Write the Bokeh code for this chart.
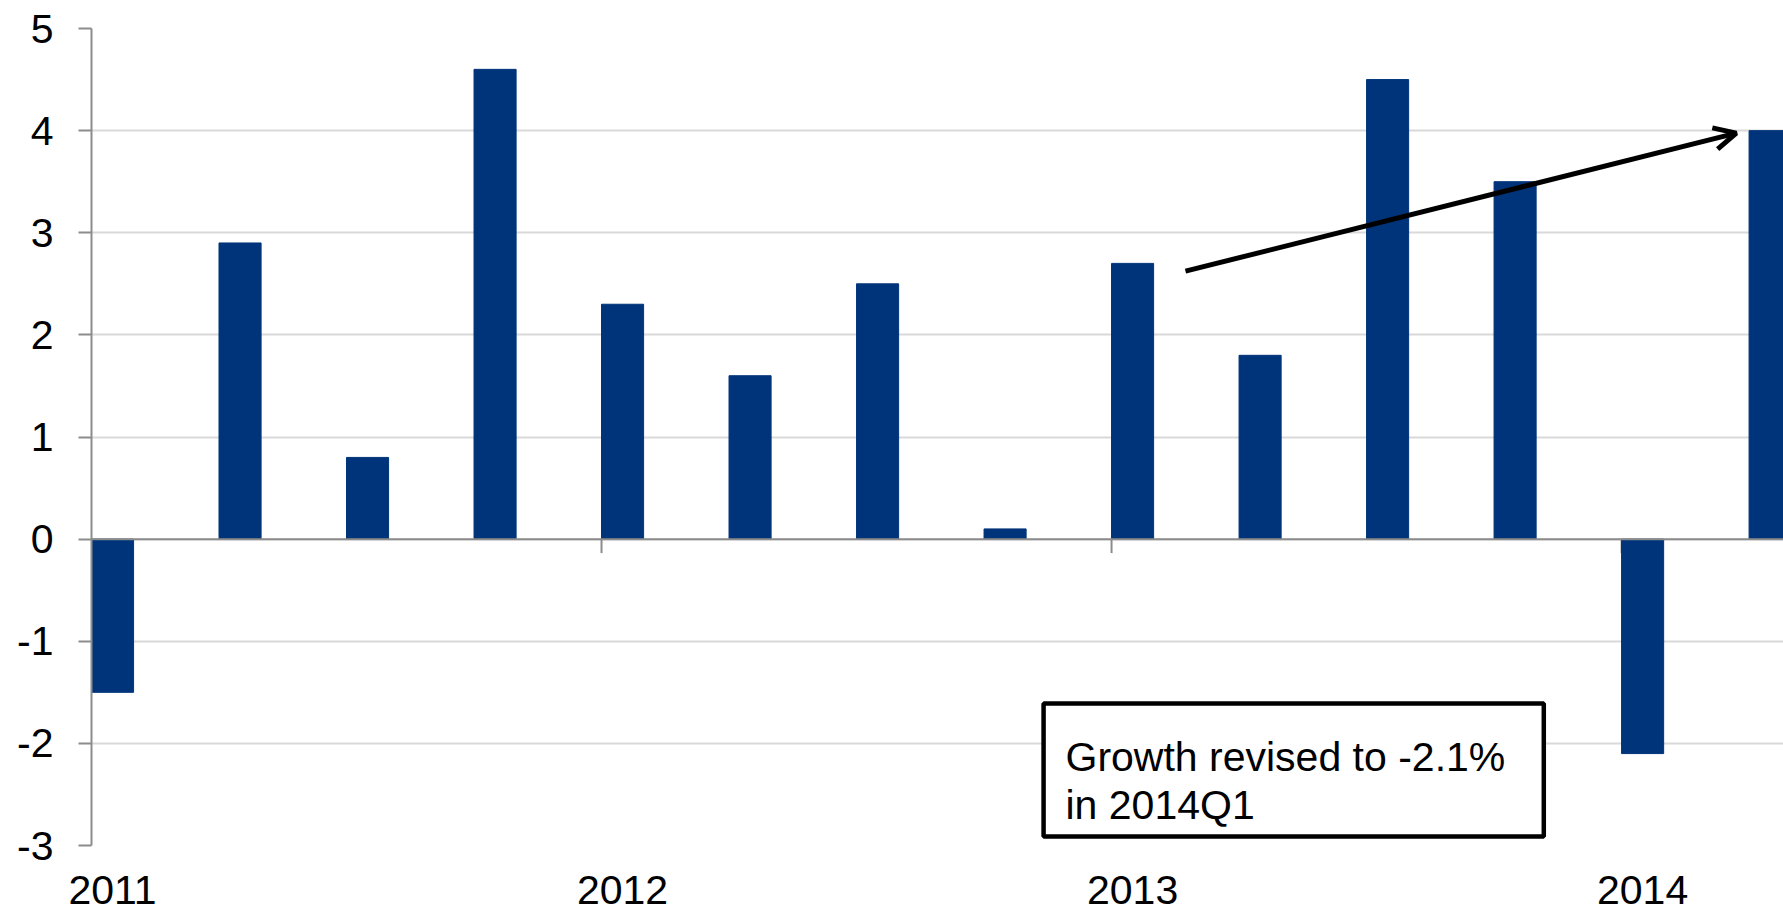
from bokeh.plotting import figure
from bokeh.models import (FixedTicker, Span, BoxAnnotation, Label, Arrow, OpenHead,
                          ColumnDataSource, Range1d)
from bokeh.embed import file_html
from bokeh.resources import INLINE

# ---- data ----
quarters = ["2011Q1", "2011Q2", "2011Q3", "2011Q4",
            "2012Q1", "2012Q2", "2012Q3", "2012Q4",
            "2013Q1", "2013Q2", "2013Q3", "2013Q4",
            "2014Q1", "2014Q2"]
growth = [-1.5, 2.9, 0.8, 4.6, 2.3, 1.6, 2.5, 0.1, 2.7, 1.8, 4.5, 3.5, -2.1, 4.0]
year_labels = ["2011", "2012", "2013", "2014"]
y_ticks = [-3, -2, -1, 0, 1, 2, 3, 4, 5]
y_tick_labels = ["-3", "-2", "-1", "0", "1", "2", "3", "4", "5"]
note_lines = ["Growth revised to -2.1%", "in 2014Q1"]

BAR_W = 0.33
FONT = "Liberation Sans"
FS = "41px"
BLUE = "#00347A"
AXIS_GRAY = "#8c8c8c"
GRID_GRAY = "#d9d9d9"

idx = list(range(len(quarters)))
bar_x = [i + BAR_W / 2 for i in idx]
src = ColumnDataSource(dict(x=bar_x, top=growth, q=quarters))

# positions of the first quarter of each year
q1_idx = [i for i, q in enumerate(quarters) if q.endswith("Q1")]
year_ticks = [i + BAR_W / 2 for i in q1_idx]
boundaries = [i for i in q1_idx if i > 0]

p = figure(width=1783, height=914, output_backend="svg", toolbar_location=None,
           x_range=Range1d(0, 13.27), y_range=Range1d(-3, 5))
p.min_border_left = 91
p.min_border_right = 0
p.min_border_top = 28
p.min_border_bottom = 69
p.outline_line_color = None
p.background_fill_color = "white"
p.border_fill_color = "white"

# y axis
ya = p.yaxis[0]
ya.ticker = FixedTicker(ticks=y_ticks)
ya.major_label_overrides = {t: s for t, s in zip(y_ticks, y_tick_labels)}
ya.axis_line_color = AXIS_GRAY
ya.axis_line_width = 2
ya.major_tick_line_color = AXIS_GRAY
ya.major_tick_line_width = 2
ya.major_tick_out = 13
ya.major_tick_in = 0
ya.minor_tick_line_color = None
ya.major_label_text_font = FONT
ya.major_label_text_font_size = FS
ya.major_label_text_color = "black"
ya.major_label_standoff = 25

# x axis (labels only, at bottom)
xa = p.xaxis[0]
xa.ticker = FixedTicker(ticks=year_ticks)
xa.major_label_overrides = {t: lab for t, lab in zip(year_ticks, year_labels)}
xa.axis_line_color = None
xa.major_tick_line_color = None
xa.major_tick_out = 0
xa.major_tick_in = 0
xa.minor_tick_line_color = None
xa.major_label_text_font = FONT
xa.major_label_text_font_size = FS
xa.major_label_text_color = "black"
xa.major_label_standoff = 30

p.xgrid.visible = False
p.ygrid[0].ticker = FixedTicker(ticks=y_ticks)
p.ygrid.grid_line_color = GRID_GRAY
p.ygrid.grid_line_width = 2

# category axis crossing at zero
p.add_layout(Span(location=0, dimension="width", line_color=AXIS_GRAY, line_width=2))
p.segment(x0=boundaries, y0=[0] * len(boundaries), x1=boundaries,
          y1=[-0.137] * len(boundaries), line_color=AXIS_GRAY, line_width=2)

p.vbar(x="x", top="top", bottom=0, width=BAR_W, source=src,
       fill_color=BLUE, line_color=BLUE, line_width=1)

# annotation box
p.add_layout(BoxAnnotation(left=7.467, right=11.39, top=-1.610, bottom=-2.912,
                           fill_color="white", fill_alpha=1.0,
                           line_color="black", line_width=4.5, line_alpha=1.0))
p.add_layout(Label(x=7.639, y=-2.138, text=note_lines[0], text_font=FONT,
                   text_font_size=FS, text_color="black", text_baseline="alphabetic"))
p.add_layout(Label(x=7.639, y=-2.608, text=note_lines[1], text_font=FONT,
                   text_font_size=FS, text_color="black", text_baseline="alphabetic"))

# arrow
p.add_layout(Arrow(end=OpenHead(size=22, line_width=5, line_color="black"),
                   x_start=8.58, y_start=2.624, x_end=12.9, y_end=3.975,
                   line_width=5, line_color="black"))

open("out.html", "w").write(file_html(p, INLINE))
